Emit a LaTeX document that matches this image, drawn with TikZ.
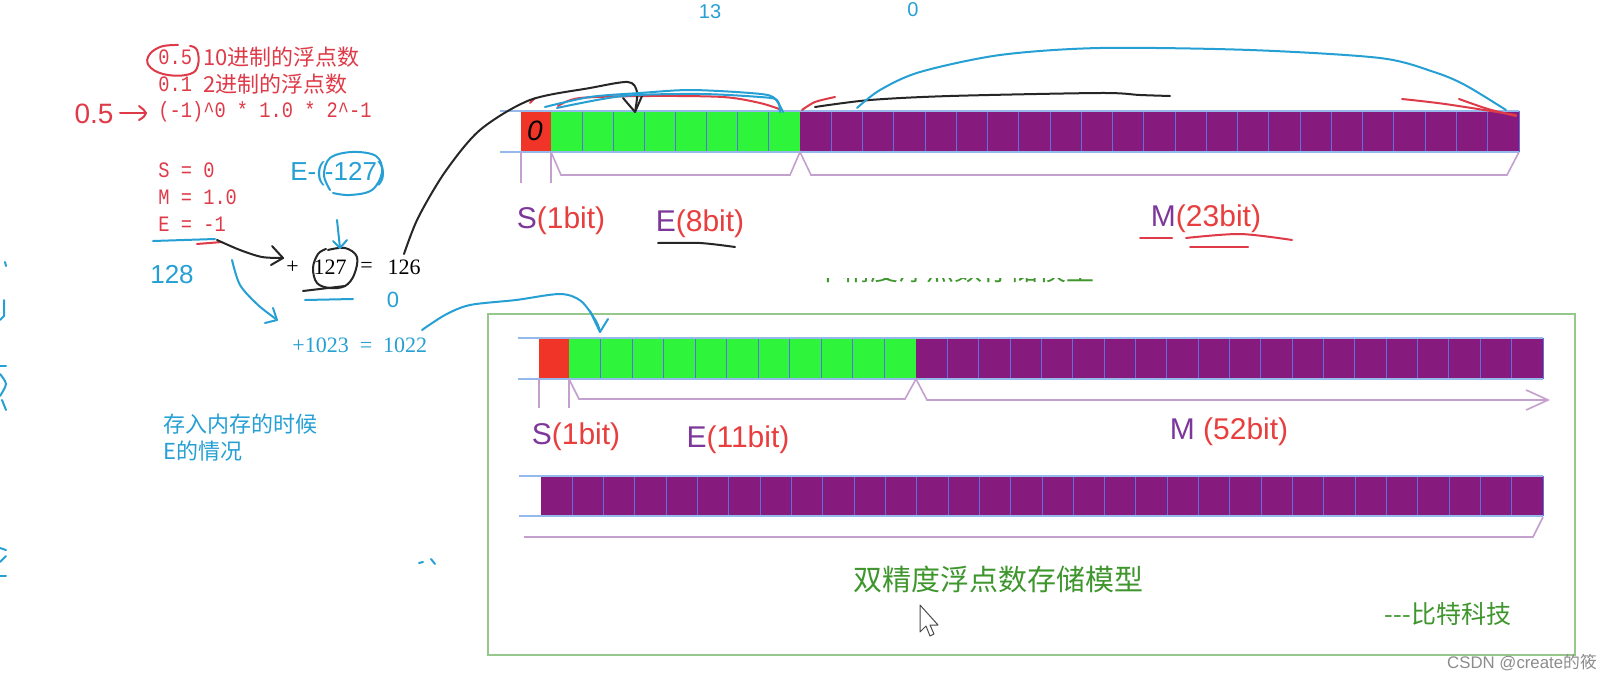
\documentclass[tikz,border=0pt]{standalone}
\usepackage{fontspec}
\setmainfont{Liberation Serif}
\setsansfont{Liberation Sans}
\setmonofont{Liberation Mono}
\newfontfamily\notemono[FakeStretch=0.85]{Liberation Mono}
\newfontfamily\cjk{Noto Sans CJK SC}
\usetikzlibrary{arrows.meta, positioning, calc}
\definecolor{signred}{RGB}{240,52,40}
\definecolor{expgreen}{RGB}{46,245,60}
\definecolor{manpurple}{RGB}{135,26,125}
\definecolor{cellline}{RGB}{95,110,225}
\definecolor{rimblue}{RGB}{150,185,235}
\definecolor{bracepurple}{RGB}{195,160,205}
\definecolor{labpurple}{RGB}{125,55,155}
\definecolor{labred}{RGB}{232,62,62}
\definecolor{notered}{RGB}{222,58,72}
\definecolor{penblue}{RGB}{38,160,212}
\definecolor{capgreen}{RGB}{62,150,45}
\definecolor{framegreen}{RGB}{150,200,140}
\newcommand{\bitfield}[6]{%
  \fill[#6] (#1,#3) rectangle (#2,#4);
  \foreach \i in {1,...,#5} {
    \draw[cellline, line width=0.5pt] ({#1+(#2-#1)/#5*\i},#3) -- ({#1+(#2-#1)/#5*\i},#4);
  }%
}
\newcommand{\rimlines}[4]{%
  \draw[rimline] (#1,#3) -- (#2,#3);
  \draw[rimline] (#1,#4) -- (#2,#4);
}
\tikzset{
  penline/.style={line width=1pt, line cap=round, line join=round},
  bluepen/.style={penline, draw=penblue},
  redpen/.style={penline, draw=notered},
  blackpen/.style={penline, draw=black!85},
  rimline/.style={draw=rimblue, line width=0.8pt},
  braceline/.style={draw=bracepurple, line width=0.8pt},
  monotxt/.style={text=notered, font=\fontsize{11pt}{13pt}\selectfont\notemono, inner sep=0pt, anchor=west},
  redcjk/.style={text=notered, font=\fontsize{11pt}{13pt}\selectfont\cjk, inner sep=0pt, anchor=west},
  bluecjk/.style={text=penblue, font=\fontsize{11pt}{13pt}\selectfont\cjk, inner sep=0pt, anchor=west},
  sumtxt/.style={font=\fontsize{11pt}{13pt}\selectfont, inner sep=0pt},
  fieldlab/.style={font=\fontsize{15pt}{18pt}\selectfont\sffamily, inner sep=0pt},
  handtxt/.style={font=\fontsize{13pt}{15pt}\selectfont\sffamily, inner sep=0pt},
}

\begin{document}
\begin{tikzpicture}[x=0.5pt, y=-0.5pt]
  \fill[white] (0,0) rectangle (1613,685);
  \useasboundingbox (0,0) rectangle (1613,685);

  % notes on 0.5
  \node[monotxt] (dec) at (158,57) {0.5};
  \node[redcjk] (dectxt) at (203,57) {10进制的浮点数};
  \node[monotxt] (bin) at (158,84) {0.1};
  \node[redcjk] (bintxt) at (203,84) {2进制的浮点数};
  \node[monotxt] (form) at (158,112) {(-1)\textasciicircum0 * 1.0 * 2\textasciicircum-1};
  \node[monotxt] (sval) at (158,170) {S = 0};
  \node[monotxt] (mval) at (158,197) {M = 1.0};
  \node[monotxt] (eval) at (158,224) {E = -1};

  % exponent sums
  \node[sumtxt] (n127) at (330,267) {127};
  \node[sumtxt, left=7pt of n127] (plus) {+};
  \node[sumtxt, right=6.5pt of n127] (eq) {=};
  \node[sumtxt, right=7pt of eq] (n126) {126};
  \node[sumtxt, text=penblue, anchor=west] (sum2) at (292,345) {+1023 \ = \ 1022};
  \node[bluecjk] (store1) at (163,424) {存入内存的时候};
  \node[bluecjk] (store2) at (163,451) {E的情况};

  % handwriting
  \node[handtxt, text=notered, font=\fontsize{14pt}{16pt}\selectfont\sffamily] (hw05) at (94,114) {0.5};
  \node[handtxt, text=penblue] (hwE) at (338,174) {E-(-127)};
  \node[handtxt, text=penblue] (hw128) at (172,275) {128};
  \node[handtxt, text=penblue, font=\fontsize{11pt}{13pt}\selectfont\sffamily] (hw0) at (393,300) {0};
  \node[handtxt, text=penblue, font=\fontsize{10pt}{12pt}\selectfont\sffamily] (hwtop) at (710,12) {13};
  \node[handtxt, text=penblue, font=\fontsize{10pt}{12pt}\selectfont\sffamily] (hwtopb) at (913,10) {0};

  % single precision
  \bitfield{521}{551}{111}{152}{1}{signred}
  \bitfield{551}{800}{111}{152}{8}{expgreen}
  \bitfield{800}{1519}{111}{152}{23}{manpurple}
  \rimlines{500}{1519}{111}{152}
  \node[handtxt, font=\fontsize{14pt}{16pt}\selectfont\sffamily\itshape] (hwsign) at (535,131) {0};
  \draw[braceline] (521,152) -- (521,183);
  \draw[braceline] (551,152) -- (551,183);
  \draw[braceline] (551,152) -- (561,175) -- (790,175) -- (800,152) -- (811,175) -- (1507,175) -- (1519,152);
  \node[fieldlab] (s1) at (561,221) {\color{labpurple}S\color{labred}(1bit)};
  \node[fieldlab] (e8) at (700,224) {\color{labpurple}E\color{labred}(8bit)};
  \node[fieldlab] (m23) at (1206,219) {\color{labpurple}M\color{labred}(23bit)};
  \begin{scope}
    \clip (700,278) rectangle (1200,286);
    \node[text=capgreen, font=\fontsize{14pt}{16pt}\selectfont\cjk, inner sep=0pt] (title1) at (954,270) {单精度浮点数存储模型};
  \end{scope}

  % double precision
  \draw[framegreen, line width=1pt] (488,314) rectangle (1575,655);
  \bitfield{539}{569}{338}{379}{1}{signred}
  \bitfield{569}{916}{338}{379}{11}{expgreen}
  \bitfield{916}{1543}{338}{379}{20}{manpurple}
  \rimlines{518}{1543}{338}{379}
  \draw[braceline] (539,379) -- (539,408);
  \draw[braceline] (569,379) -- (569,408);
  \draw[braceline, -{Straight Barb[length=11pt, width=10pt]}] (569,379) -- (579,399) -- (905,399) -- (916,379) -- (927,400) -- (1550,400);
  \node[fieldlab] (s1b) at (576,437) {\color{labpurple}S\color{labred}(1bit)};
  \node[fieldlab] (e11) at (738,440) {\color{labpurple}E\color{labred}(11bit)};
  \node[fieldlab] (m52) at (1229,432) {\color{labpurple}M \color{labred}(52bit)};
  \bitfield{541}{1543}{476}{516}{32}{manpurple}
  \rimlines{519}{1543}{476}{516}
  \draw[braceline] (524,537) -- (1533,537) -- (1543,517);
  \node[text=capgreen, font=\fontsize{14.5pt}{17pt}\selectfont\cjk, inner sep=0pt] (title2) at (998,579) {双精度浮点数存储模型};
  \node[text=capgreen, font=\fontsize{12.5pt}{15pt}\selectfont\cjk, inner sep=0pt] (brand) at (1448,614) {---比特科技};
  \draw[black!70, fill=white, line width=0.5pt, line join=round] (920,605) -- (920,632) -- (926,626) -- (930,636) -- (934,634) -- (930,625) -- (938,625) -- cycle;
  \node[text=black!45, font=\fontsize{8.4pt}{10pt}\selectfont\sffamily, inner sep=0pt] (mark) at (1522,663) {CSDN @create{\cjk 的筱}};

  % red strokes
  \draw[redpen] plot[smooth, tension=0.7] coordinates {(178,45) (160,47) (148,57) (151,68) (168,75) (190,74) (198,65) (197,50) (190,46)};
  \draw[redpen] (120,113) -- (146,113);
  \draw[redpen] (139,106) .. controls (144,110) .. (146,113) .. controls (144,117) .. (139,120);
  \draw[redpen] (197,244) -- (222,242);
  \draw[redpen] (530,103) -- (535,98);
  \draw[redpen] plot[smooth] coordinates {(558,106) (580,98) (650,96) (723,97) (760,103) (782,110)};
  \draw[redpen] plot[smooth] coordinates {(802,110) (815,102) (835,97)};
  \draw[redpen] plot[smooth] coordinates {(1402,99) (1445,104) (1516,115)};
  \draw[redpen] plot[smooth] coordinates {(1459,99) (1488,109) (1516,116)};
  \draw[redpen] (1140,238) -- (1172,238);
  \draw[redpen] plot[smooth] coordinates {(1186,238) (1240,234) (1292,240)};
  \draw[redpen] (1190,247) -- (1248,247);

  % black strokes
  \draw[blackpen] plot[smooth] coordinates {(217,240) (240,250) (262,257) (283,258)};
  \draw[blackpen] (272,246) -- (283,258) -- (271,265);
  \draw[blackpen] plot[smooth, tension=0.6] coordinates {(328,250) (345,248) (357,257) (354,275) (345,286) (330,288) (317,283) (313,268) (318,254) (326,249)};
  \draw[blackpen] (303,291) -- (345,286);
  \draw[blackpen] plot[smooth] coordinates {(404,254) (418,218) (445,172) (480,130) (530,100) (590,88) (628,82) (637,92) (635,112)};
  \draw[blackpen] (623,98) -- (635,112) -- (642,96);
  \draw[blackpen] plot[smooth] coordinates {(815,107) (870,100) (950,96) (1100,93) (1140,95) (1170,96)};
  \draw[blackpen] plot[smooth] coordinates {(658,243) (700,243) (735,247)};

  % blue strokes
  \draw[bluepen] plot[smooth, tension=0.6] coordinates {(330,190) (324,175) (330,158) (352,152) (376,156) (382,172) (372,190) (350,195) (333,193)};
  \draw[bluepen] (337,220) -- (340,248);
  \draw[bluepen] (333,241) -- (340,248) -- (347,240);
  \draw[bluepen] (153,241) -- (215,239);
  \draw[bluepen] (305,300) -- (353,299);
  \draw[bluepen] plot[smooth] coordinates {(232,260) (240,285) (258,305) (276,319)};
  \draw[bluepen] (265,323) -- (277,320) -- (273,308);
  \draw[bluepen] plot[smooth] coordinates {(422,330) (445,315) (470,305) (516,300) (560,294) (581,301) (596,321) (600,332)};
  \draw[bluepen] (590,311) -- (600,332) -- (608,319);
  \draw[bluepen] plot[smooth] coordinates {(545,107) (590,97) (640,93) (690,90) (750,93) (773,97) (783,112)};
  \draw[bluepen] plot[smooth] coordinates {(557,108) (623,96) (700,94) (760,97) (777,100) (780,112)};
  \draw[bluepen] plot[smooth] coordinates {(857,108) (880,90) (920,72) (1000,55) (1100,48) (1250,50) (1380,58) (1434,72) (1465,85) (1506,110)};
  \draw[bluepen] (5,262) -- (6,266);
  \draw[bluepen] (4,300) -- (4,316) -- (0,320);
  \draw[bluepen] (0,366) -- (6,366);
  \draw[bluepen] plot[smooth] coordinates {(0,374) (6,384) (0,396)};
  \draw[bluepen] (2,400) -- (6,410);
  \draw[bluepen] (0,548) -- (6,550);
  \draw[bluepen] (0,562) -- (6,556);
  \draw[bluepen] (0,576) -- (6,576);
  \draw[bluepen] (419,563) -- (423,562);
  \draw[bluepen] (431,559) -- (435,564);
\end{tikzpicture}
\end{document}
